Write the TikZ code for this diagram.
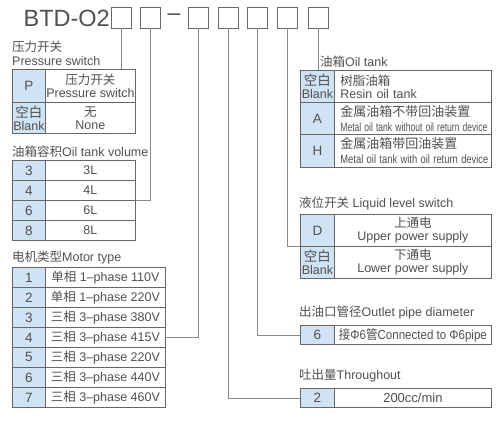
\documentclass[tikz,border=0pt]{standalone}
\usepackage{graphicx}
\usepackage{fontspec}
\setmainfont{Liberation Sans}
\newfontfamily\cjk{Noto Sans CJK SC}
\usetikzlibrary{positioning}

\definecolor{txtgray}{HTML}{505050}
\definecolor{linegray}{HTML}{666666}
\definecolor{wiregray}{HTML}{8A8A8A}
\definecolor{keyblue}{HTML}{CFE3F4}

\newcommand{\cn}[1]{{\cjk #1}}
\newcommand{\squeeze}[2]{\resizebox{#1pt}{\height}{#2}}

\begin{document}
\begin{tikzpicture}
[x=1pt, y=-1pt, text=txtgray,
  codebox/.style={draw=linegray, line width=0.9pt, minimum width=20, minimum height=21, inner sep=0},
  keycell/.style={draw=linegray, fill=keyblue, line width=0.8pt, anchor=north west, inner sep=0,
    align=center, font=\fontsize{13.5}{13}\selectfont},
  valcell/.style={draw=linegray, fill=white, line width=0.8pt, anchor=north west, inner sep=0,
    align=center, font=\fontsize{12.5}{13}\selectfont},
  caption/.style={anchor=west, inner sep=0, font=\fontsize{12.5}{13}\selectfont},
  wire/.style={draw=wiregray, line width=0.8pt}
]
  \useasboundingbox (0,0) rectangle (500,421);

  % model code
  \node[anchor=base east, inner sep=0, font=\fontsize{23.5}{23}\selectfont] (title) at (110,26.5) {BTD-O2};
  \node[inner sep=0, font=\fontsize{23}{23}\selectfont] (dash) at (174,17) {–};
  \foreach \i/\x in {1/121,2/150,3/198,4/228,5/257,6/287,7/318}
    \node[codebox] (b\i) at (\x,17.5) {};

  % pressure switch
  \node[caption] (pscap1) at (12,47) {\cn{压力开关}};
  \node[caption] (pscap2) at (12,61) {Pressure switch};
  \node[keycell, minimum width=33, minimum height=33] (psk1) at (12,69) {P};
  \node[valcell, minimum width=90, minimum height=33] (psv1) at (45,69) {\cn{压力开关}\\Pressure switch};
  \node[keycell, minimum width=33, minimum height=31] (psk2) at (12,102) {\cn{空白}\\\fontsize{12.5}{13}\selectfont Blank};
  \node[valcell, minimum width=90, minimum height=31] (psv2) at (45,102) {\cn{无}\\None};

  % oil tank volume
  \node[caption] (volcap) at (12,152) {\cn{油箱容积}Oil tank volume};
  \foreach \i/\k in {1/3,2/4,3/6,4/8} {
    \node[keycell, minimum width=33, minimum height=20] (vk\i) at (12,{140+20*\i}) {\k};
    \node[valcell, minimum width=90, minimum height=20] (vv\i) at (45,{140+20*\i}) {\k L};
  }

  % motor type
  \node[caption] (motcap) at (12,258) {\cn{电机类型}Motor type};
  \foreach \i/\txt in {1/{\cn{单相} 1–phase 110V}, 2/{\cn{单相} 1–phase 220V},
      3/{\cn{三相} 3–phase 380V}, 4/{\cn{三相} 3–phase 415V}, 5/{\cn{三相} 3–phase 220V},
      6/{\cn{三相} 3–phase 440V}, 7/{\cn{三相} 3–phase 460V}} {
    \node[keycell, minimum width=33, minimum height=20] (mk\i) at (12,{247+20*\i}) {\i};
    \node[valcell, minimum width=120, minimum height=20] (mv\i) at (45,{247+20*\i}) {\txt};
  }

  % oil tank
  \node[caption] (otcap) at (320,62) {\cn{油箱}Oil tank};
  \node[keycell, minimum width=34, minimum height=32] (otk1) at (300,70) {\cn{空白}\\\fontsize{12.5}{13}\selectfont Blank};
  \node[valcell, minimum width=157, minimum height=32, text width=145, align=left] (otv1) at (334,70)
    {\cn{树脂油箱}\\Resin oil tank};
  \node[keycell, minimum width=34, minimum height=32] (otk2) at (300,102) {A};
  \node[valcell, minimum width=157, minimum height=32, text width=145, align=left,
    font=\fontsize{13}{15}\selectfont] (otv2) at (334,102)
    {\cn{金属油箱不带回油装置}\\\squeeze{147}{\fontsize{12}{12}\selectfont Metal oil tank without oil return device}};
  \node[keycell, minimum width=34, minimum height=33] (otk3) at (300,134) {H};
  \node[valcell, minimum width=157, minimum height=33, text width=145, align=left,
    font=\fontsize{13}{15}\selectfont] (otv3) at (334,134)
    {\cn{金属油箱带回油装置}\\\squeeze{148}{\fontsize{12}{12}\selectfont Metal oil tank with oil return device}};

  % liquid level switch
  \node[caption] (lqcap) at (299,203) {\cn{液位开关} Liquid level switch};
  \node[keycell, minimum width=34, minimum height=32] (lk1) at (300,214) {D};
  \node[valcell, minimum width=157, minimum height=32] (lv1) at (334,214) {\cn{上通电}\\Upper power supply};
  \node[keycell, minimum width=34, minimum height=32] (lk2) at (300,246) {\cn{空白}\\\fontsize{12.5}{13}\selectfont Blank};
  \node[valcell, minimum width=157, minimum height=32] (lv2) at (334,246) {\cn{下通电}\\Lower power supply};

  % outlet pipe diameter
  \node[caption] (opcap) at (299,313) {\cn{出油口管径}Outlet pipe diameter};
  \node[keycell, minimum width=34, minimum height=19] (ok1) at (300,325) {6};
  \node[valcell, minimum width=157, minimum height=19] (ov1) at (334,325)
    {\squeeze{148}{\fontsize{13}{13}\selectfont\cn{接}Φ6\cn{管}Connected to Φ6pipe}};

  % throughout
  \node[caption] (tpcap) at (299,376) {\cn{吐出量}Throughout};
  \node[keycell, minimum width=34, minimum height=19] (tk1) at (300,388) {2};
  \node[valcell, minimum width=157, minimum height=19, font=\fontsize{13}{13}\selectfont] (tv1) at (334,388) {200cc/min};

  % connectors
  \draw[wire] (b1.south) -- (b1.south |- psv1.north);
  \draw[wire] (b2.south) |- (vv2.south east);
  \draw[wire] (b3.south) |- (mv4.east);
  \draw[wire] (b4.south) |- (tk1.west);
  \draw[wire] (b5.south) |- (ok1.west);
  \draw[wire] (b6.south) |- (lk1.south west);
  \draw[wire] (b7.south) -- (b7.south |- otv1.north);
\end{tikzpicture}
\end{document}
